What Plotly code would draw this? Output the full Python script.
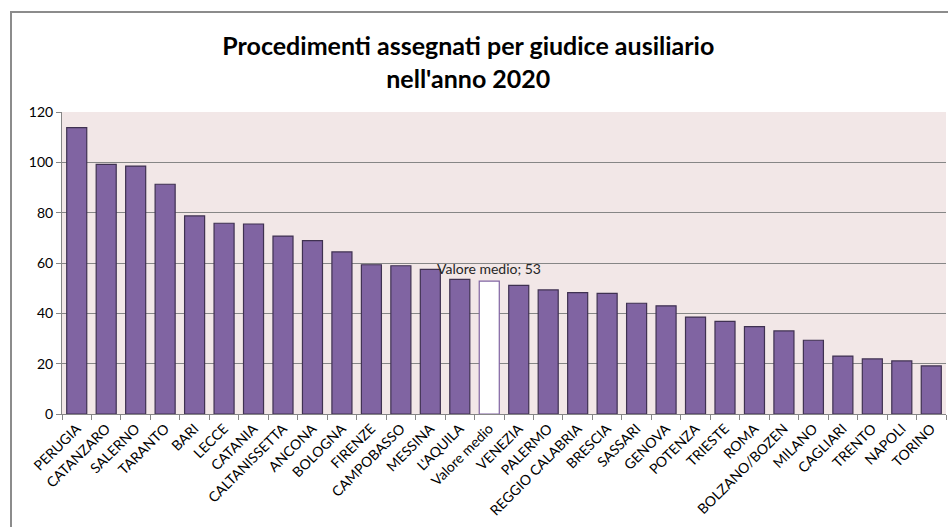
import plotly.graph_objects as go

categories = ["PERUGIA", "CATANZARO", "SALERNO", "TARANTO", "BARI", "LECCE", "CATANIA",
              "CALTANISSETTA", "ANCONA", "BOLOGNA", "FIRENZE", "CAMPOBASSO", "MESSINA",
              "L'AQUILA", "Valore medio", "VENEZIA", "PALERMO", "REGGIO CALABRIA", "BRESCIA",
              "SASSARI", "GENOVA", "POTENZA", "TRIESTE", "ROMA", "BOLZANO/BOZEN", "MILANO",
              "CAGLIARI", "TRENTO", "NAPOLI", "TORINO"]
values = [113.8, 99.2, 98.5, 91.3, 78.7, 75.8, 75.5, 70.7, 68.9, 64.4, 59.3, 58.9, 57.5,
          53.5, 52.8, 51.1, 49.3, 48.2, 47.9, 44.0, 43.0, 38.5, 36.8, 34.7, 33.0, 29.3,
          23.0, 21.9, 21.1, 19.1]
mean_label = "Valore medio"
mean_text = "Valore medio; 53"
title_text = "Procedimenti assegnati per giudice ausiliario<br>nell'anno 2020"
y_ticks = [0, 20, 40, 60, 80, 100, 120]

FONT = "Lato"
fill = ["#FFFFFF" if c == mean_label else "#8064A2" for c in categories]
line = ["#8064A2" if c == mean_label else "#3F3151" for c in categories]

fig = go.Figure(go.Bar(
    x=categories, y=values,
    marker=dict(color=fill, line=dict(color=line, width=1.2)),
    width=0.68,
))

L, R, T, B = 62, 2, 112, 113
W, H = 948, 527
pw, ph = W - L - R, H - T - B

fig.add_annotation(x=mean_label, y=52.8, text=mean_text, showarrow=False,
                   yanchor="bottom", yshift=2,
                   font=dict(family=FONT, size=14, color="#262626"))

# outer chart frame
fig.add_shape(type="rect", xref="paper", yref="paper",
              x0=(11 - L) / pw, x1=(W + 10 - L) / pw,
              y0=-(B + 10) / ph, y1=1 + (T - 12) / ph,
              line=dict(color="#8C8C8C", width=2), layer="below")

fig.update_layout(
    width=W, height=H,
    margin=dict(l=L, r=R, t=T, b=B, autoexpand=False),
    paper_bgcolor="white",
    plot_bgcolor="#F2E7E7",
    showlegend=False,
    title=dict(text=title_text, x=0.494, xanchor="center", y=0.895, yanchor="middle",
               font=dict(family=FONT, size=25, color="#000000", weight="bold")),
    xaxis=dict(type="category", tickangle=-45, tickson="boundaries", ticks="outside",
               ticklen=5, tickcolor="#868686", showline=True, linecolor="#868686",
               linewidth=1, automargin=False,
               tickfont=dict(family=FONT, size=14, color="#000000")),
    yaxis=dict(range=[0, 120], tickvals=y_ticks, ticks="outside", ticklen=5,
               tickcolor="#868686", showline=True, linecolor="#868686", linewidth=1,
               showgrid=True, gridcolor="#868686", gridwidth=1, zeroline=False,
               automargin=False,
               tickfont=dict(family=FONT, size=14, color="#000000"), ticksuffix="   "),
    bargap=0.32,
)

fig.write_html("out.html",
               config={"displayModeBar": False},
               post_script="document.body.style.margin='0';document.body.style.overflow='hidden';")
